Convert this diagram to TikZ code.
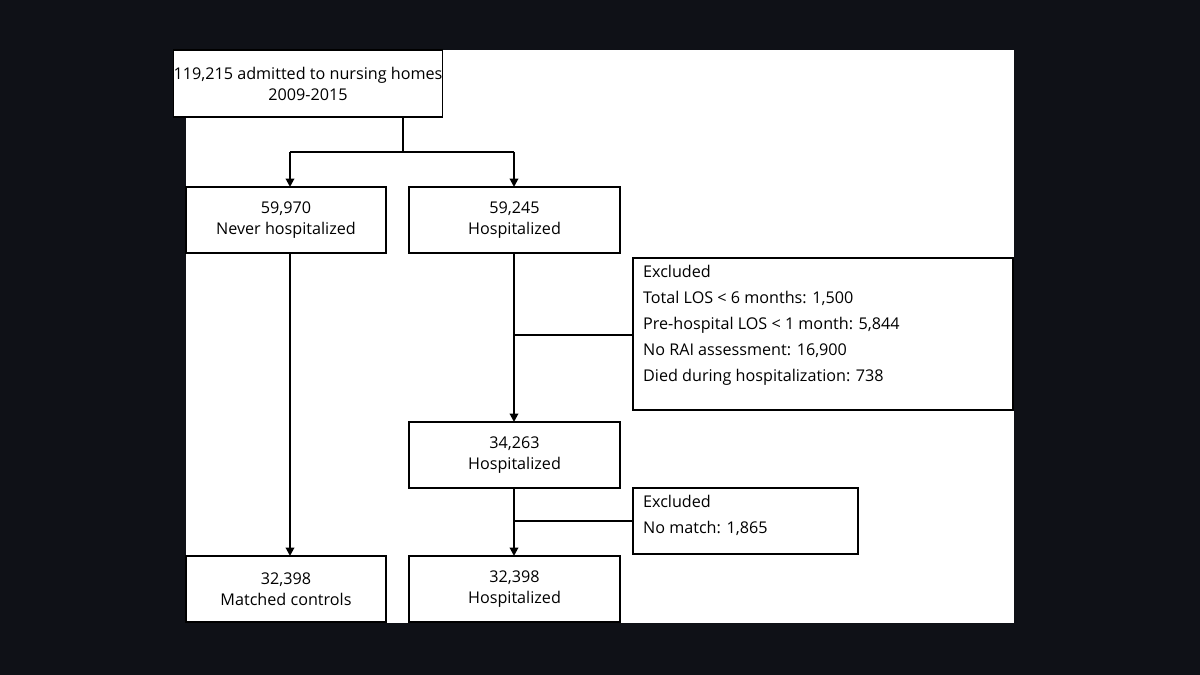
\documentclass[tikz,border=0pt]{standalone}
\usepackage{fontspec}
\setmainfont{Open Sans}
\usetikzlibrary{arrows.meta}
\begin{document}
\begin{tikzpicture}[x=0.5mm,y=-0.5mm,
  box/.style={draw=black,line width=1.8pt,fill=white,inner sep=0pt,align=center,font=\fontsize{23}{30}\selectfont},
  lbox/.style={draw=black,line width=1.8pt,fill=white,inner sep=0pt},
  conn/.style={line width=2.8pt,draw=black},
  arr/.style={conn,-{Triangle[length=12pt,width=12pt]}}]
\fill[fill={rgb,255:red,15;green,17;blue,23}] (0,0) rectangle (1200,675);
\fill[white] (186,50) rectangle (1014,623);
\useasboundingbox (0,0) rectangle (1200,675);
\node[box,minimum width=244*0.5mm,minimum height=67*0.5mm] (top) at (308,83.5) {119,215 admitted to nursing homes\\2009-2015};
\node[box,minimum width=200*0.5mm,minimum height=66*0.5mm] (never) at (286,220) {59,970\\Never hospitalized};
\node[box,minimum width=211*0.5mm,minimum height=66*0.5mm] (h1) at (514.5,220) {59,245\\Hospitalized};
\node[box,minimum width=211*0.5mm,minimum height=66*0.5mm] (h2) at (514.5,455) {34,263\\Hospitalized};
\node[box,minimum width=200*0.5mm,minimum height=66*0.5mm] (mc) at (286,589) {32,398\\Matched controls};
\node[box,minimum width=211*0.5mm,minimum height=66*0.5mm] (h3) at (514.5,589) {32,398\\Hospitalized};
\node[lbox,minimum width=380*0.5mm,minimum height=152*0.5mm] (e1) at (823,334) {};
\node[anchor=north west,inner sep=0pt,align=left,font=\fontsize{23}{37}\selectfont] (e1t) at (643,265) {Excluded\\Total LOS < 6 months: 1,500\\Pre-hospital LOS < 1 month: 5,844\\No RAI assessment: 16,900\\Died during hospitalization: 738};
\node[lbox,minimum width=225*0.5mm,minimum height=66*0.5mm] (e2) at (745.5,521) {};
\node[anchor=north west,inner sep=0pt,align=left,font=\fontsize{23}{37}\selectfont] (e2t) at (643,495) {Excluded\\No match: 1,865};
\coordinate (s) at (403,117);
\coordinate (j) at (403,152);
\coordinate (jl) at (290,152);
\coordinate (jr) at (514,152);
\draw[conn] (s) -- (j);
\draw[conn] (jl) -- (jr);
\draw[arr] (jl) -- (290,187);
\draw[arr] (jr) -- (514,187);
\draw[arr] (290,253) -- (290,556);
\draw[arr] (514,253) -- (514,422);
\draw[conn] (514,335) -- (e1.west |- 0,335);
\draw[arr] (514,488) -- (514,556);
\draw[conn] (514,521) -- (e2.west);
\end{tikzpicture}
\end{document}
